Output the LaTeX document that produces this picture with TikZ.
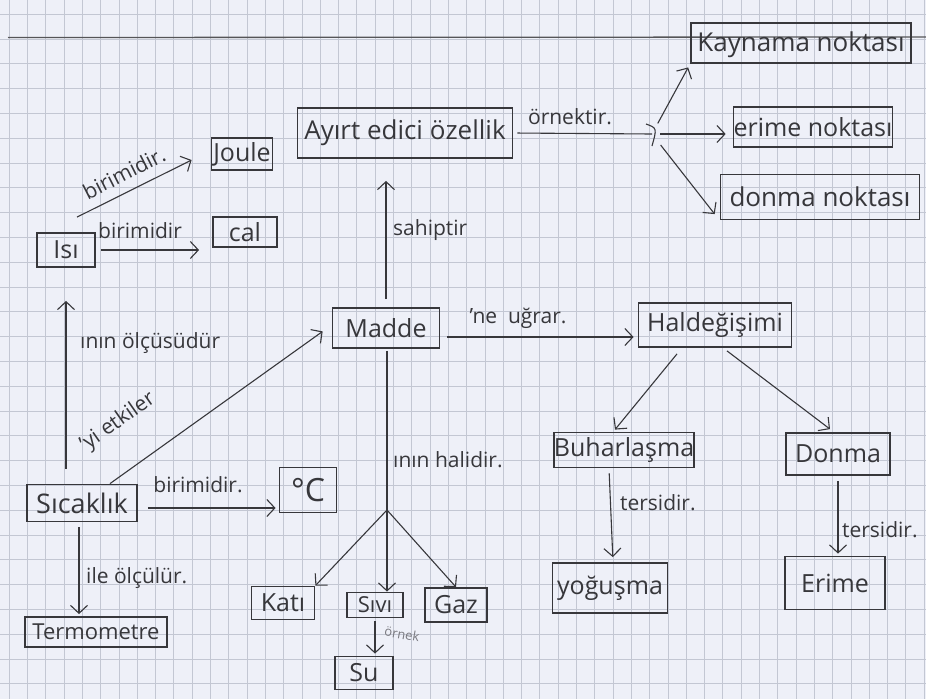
\documentclass[tikz,border=0pt]{standalone}
\usepackage{fontspec}
\setmainfont{Open Sans}
\usetikzlibrary{arrows.meta,calc}
\definecolor{paper}{HTML}{EEF0F8}
\definecolor{gridline}{HTML}{C3C7D3}
\definecolor{pencil}{HTML}{37373B}
\definecolor{faint}{HTML}{7A7A80}
\tikzset{
  concept/.style={draw=pencil, line width=1.8pt, text=pencil, inner sep=0pt,
    font=\fontsize{25}{25}\selectfont},
  link/.style={draw=pencil, line width=1.1pt},
  arr/.style={link, -{Straight Barb[length=8pt,width=17pt]}},
  lbl/.style={text=pencil, inner sep=0pt, font=\fontsize{21}{21}\selectfont},
}
\begin{document}
\begin{tikzpicture}[x=1pt,y=-1pt]
  % paper and squared ruling
  \fill[paper] (0,0) rectangle (926,699);
  \useasboundingbox (0,0) rectangle (926,699);
  \foreach \i in {0,...,50} \draw[gridline, line width=0.5pt] ({9+18.3*\i},0) -- ++(0,699);
  \foreach \j in {0,...,28} \draw[gridline, line width=0.5pt] (0,{14+24.8*\j}) -- ++(926,0);
  \draw[pencil!85, line width=1.3pt] (8,37.5) -- (926,37);

  % concepts
  \node[concept, minimum width=58pt, minimum height=34pt] (isi) at (66,250) {Isı};
  \node[concept, minimum width=61pt, minimum height=32pt] (joule) at (242,154) {Joule};
  \node[concept, minimum width=64pt, minimum height=30pt] (cal) at (245,232) {cal};
  \node[concept, minimum width=215pt, minimum height=50pt, font=\fontsize{26}{26}\selectfont] (ayirt) at (405,133) {Ayırt edici özellik};
  \node[concept, minimum width=220pt, minimum height=40pt, text depth=2pt, font=\fontsize{26}{26}\selectfont] (kaynama) at (801,43) {Kaynama noktası};
  \node[concept, minimum width=156pt, minimum height=40pt] (enok) at (813,127) {erime noktası};
  \node[concept, minimum width=199pt, minimum height=45pt, font=\fontsize{26}{26}\selectfont] (dnok) at (820,197) {donma noktası};
  \node[concept, minimum width=107pt, minimum height=40pt] (madde) at (386,328) {Madde};
  \node[concept, minimum width=153pt, minimum height=44pt] (hal) at (715,325) {Haldeğişimi};
  \node[concept, minimum width=138pt, minimum height=35pt] (buhar) at (624,450) {Buharlaşma};
  \node[concept, minimum width=104pt, minimum height=42pt] (donma) at (838,454) {Donma};
  \node[concept, minimum width=115pt, minimum height=50pt] (yogus) at (610,588) {yoğuşma};
  \node[concept, minimum width=100pt, minimum height=53pt] (erime) at (835,583) {Erime};
  \node[concept, minimum width=110pt, minimum height=37pt, font=\fontsize{27}{27}\selectfont] (sicak) at (82,503) {Sıcaklık};
  \node[concept, minimum width=57pt, minimum height=45pt, font=\fontsize{32}{32}\selectfont] (cels) at (308,490) {°C};
  \node[concept, minimum width=142pt, minimum height=30pt, font=\fontsize{22}{22}\selectfont] (termo) at (96,632) {Termometre};
  \node[concept, minimum width=63pt, minimum height=33pt] (kati) at (283,603) {Katı};
  \node[concept, minimum width=56pt, minimum height=25pt, font=\fontsize{22}{22}\selectfont] (sivi) at (375,605) {Sıvı};
  \node[concept, minimum width=62pt, minimum height=34pt] (gaz) at (456,605) {Gaz};
  \node[concept, minimum width=58pt, minimum height=33pt] (su) at (364,673) {Su};

  % branching points
  \coordinate (ej) at (652,134);
  \coordinate (mj) at (387,510);

  % Isı
  \draw[arr] ([xshift=11pt,yshift=15pt]isi.north) -- ([xshift=-19pt,yshift=-6pt]joule.west);
  \draw[arr, shorten <=5pt, shorten >=13pt] (isi.east) -- (isi.east -| cal.west);
  \node[lbl, rotate=27] (l1) at (124,173) {birimidir.};
  \node[lbl] (l2) at (140,231) {birimidir};

  % Sıcaklık
  \draw[arr, shorten <=15pt, shorten >=33pt] (isi.south |- sicak.north) -- (isi.south);
  \node[lbl, anchor=west] (l3) at (80,343) {ının ölçüsüdür};
  \draw[arr, shorten >=11pt] ([xshift=28pt]sicak.north) -- ([yshift=3pt]madde.west);
  \node[lbl, rotate=35] (l4) at (118,422) {'yi etkiler};
  \draw[arr, shorten <=10pt, shorten >=3pt] ([yshift=-5pt]sicak.east) -- ([yshift=-5pt]sicak.east -| cels.west);
  \node[lbl] (l5) at (198,485) {birimidir.};
  \draw[arr, shorten <=5pt, shorten >=2pt] ([xshift=-3pt]sicak.south) -- ([xshift=-3pt]sicak.south |- termo.north);
  \node[lbl, anchor=west] (l6) at (86,578) {ile ölçülür.};

  % Madde
  \draw[arr, shorten <=8pt, shorten >=22pt] (madde.north) -- (madde.north |- ayirt.south);
  \node[lbl, anchor=west] (l7) at (393,230) {sahiptir};
  \draw[arr, shorten <=7pt, shorten >=4pt] ([yshift=-9pt]madde.east) -- ([yshift=-9pt]madde.east -| hal.west);
  \node[lbl] (l8) at (518,318) {'ne \ uğrar.};
  \draw[link] ([yshift=-2pt]madde.south -| mj) -- (mj);
  \draw[arr] (mj) -- (kati.north east);
  \draw[arr] (mj) -- (mj |- sivi.north);
  \draw[arr] (mj) -- (gaz.north);
  \node[lbl, anchor=west] (l9) at (393,460) {ının halidir.};
  \draw[arr, shorten <=3pt, shorten >=2pt] (sivi.south) -- (sivi.south |- su.north);
  \node[lbl, text=faint, rotate=-10, font=\fontsize{13}{13}\selectfont] (l10) at (402,634) {örnek};

  % Ayırt edici özellik
  \draw[link, shorten <=4pt] (ayirt.east) -- (ej);
  \draw[link] (646,124) .. controls (657,128) .. (652,146);
  \draw[arr, shorten <=12pt, shorten >=4pt] (ej) -- (kaynama.south west);
  \draw[arr, shorten <=8pt, shorten >=7pt] (ej) -- (ej -| enok.west);
  \draw[arr, shorten <=14pt, shorten >=8pt] (ej) -- (dnok.south west);
  \node[lbl] (l11) at (570,117) {örnektir.};

  % Hal değişimi
  \draw[arr] ([xshift=-38pt,yshift=-6pt]hal.south) -- ([xshift=-9pt,yshift=2pt]buhar.north);
  \draw[arr] ([xshift=12pt,yshift=-3pt]hal.south) -- ([xshift=-8pt,yshift=3pt]donma.north);
  \draw[arr, shorten <=5pt, shorten >=5pt] ([xshift=-15pt]buhar.south) -- ([xshift=3pt]yogus.north);
  \node[lbl, anchor=west] (l12) at (620,503) {tersidir.};
  \draw[arr, shorten <=5pt, shorten >=2pt] (donma.south) -- (donma.south |- erime.north);
  \node[lbl, anchor=west] (l13) at (842,530) {tersidir.};
\end{tikzpicture}
\end{document}
